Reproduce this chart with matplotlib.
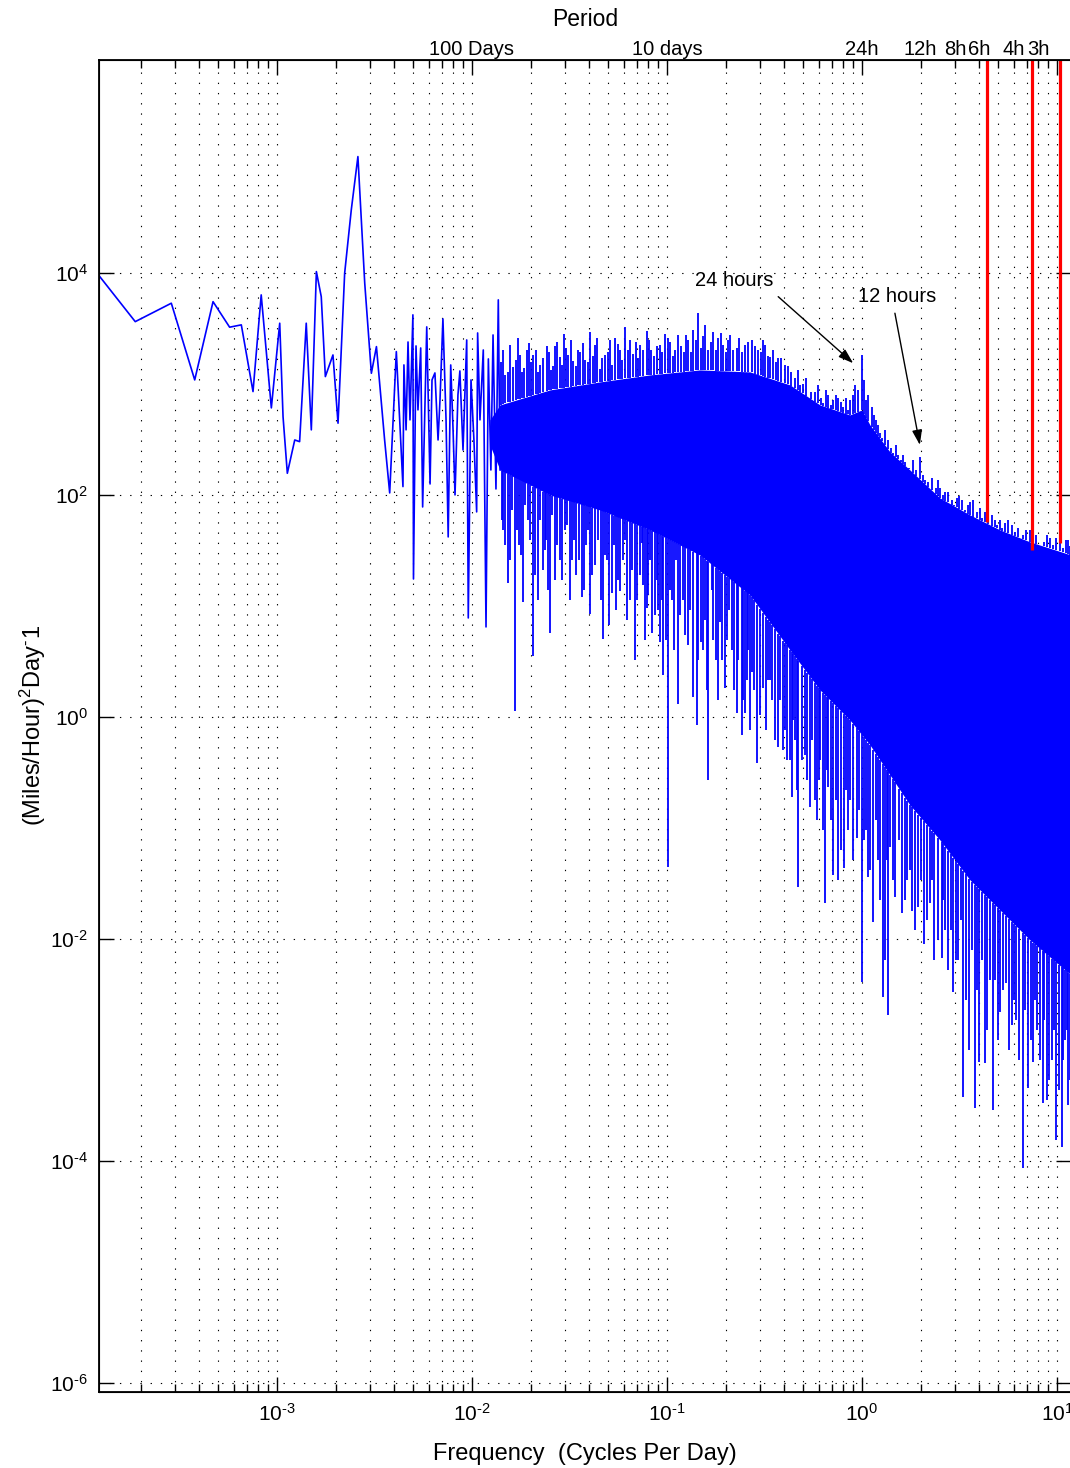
import numpy as np
import matplotlib
matplotlib.use('Agg')
import matplotlib.pyplot as plt
from matplotlib.ticker import LogLocator, NullLocator, NullFormatter, FuncFormatter

plt.rcParams['font.family'] = ['Liberation Sans', 'DejaVu Sans']
plt.rcParams['mathtext.fontset'] = 'custom'
plt.rcParams['mathtext.rm'] = 'Liberation Sans'
plt.rcParams['mathtext.it'] = 'Liberation Sans:italic'
plt.rcParams['mathtext.bf'] = 'Liberation Sans:bold'
plt.rcParams['axes.unicode_minus'] = False

BLUE = '#0000ff'
HYPHEN = '\u2010'

# low frequencies, drawn as a plain line (log10 cycles/day, log10 power)
line_lf = [-3.909, -3.727, -3.542, -3.422, -3.328, -3.243, -3.183, -3.123, -3.081, -3.029,
           -2.986, -2.969, -2.947, -2.909, -2.884, -2.850, -2.824, -2.798, -2.773, -2.752,
           -2.713, -2.687, -2.653, -2.619, -2.585, -2.550, -2.516, -2.490, -2.448, -2.422,
           -2.388, -2.354, -2.349, -2.338, -2.328, -2.318, -2.303, -2.300, -2.287, -2.277,
           -2.263, -2.253, -2.232, -2.215, -2.205, -2.190, -2.174, -2.164, -2.149, -2.133,
           -2.122, -2.109, -2.097, -2.087, -2.072, -2.062, -2.046, -2.027, -2.019, -2.005,
           -1.990, -1.976, -1.971, -1.959, -1.942, -1.928, -1.916, -1.903, -1.892, -1.877,
           -1.865, -1.856]
line_lp = [3.967, 3.561, 3.727, 3.036, 3.741, 3.511, 3.532, 2.931, 3.802, 2.784,
           3.547, 2.705, 2.195, 2.495, 2.480, 3.547, 2.586, 4.012, 3.786, 3.066,
           3.261, 2.646, 3.997, 4.568, 5.048, 3.907, 3.096, 3.336, 2.495, 2.018,
           3.291, 2.075, 3.171, 2.586, 3.378, 2.676, 3.622, 1.243, 3.342, 2.766,
           3.324, 1.892, 3.514, 2.099, 3.036, 3.099, 2.495, 2.856, 3.586, 2.676,
           1.622, 3.171, 2.586, 2.000, 2.901, 3.117, 2.405, 3.396, 0.892, 3.036,
           2.495, 1.847, 3.459, 2.676, 3.306, 0.811, 3.225, 2.225, 3.441, 2.054,
           3.757, 2.225]

# solid core of the dense part of the spectrum
band_lf = [-1.908, -1.856, -1.600, -1.344, -1.087, -0.831, -0.574, -0.369, -0.215, -0.062,
           0.000, 0.041, 0.144, 0.246, 0.400, 0.554, 0.708, 0.862, 1.072]
band_top = [2.676, 2.811, 2.946, 3.018, 3.081, 3.126, 3.108, 2.991, 2.811, 2.721,
            2.766, 2.631, 2.387, 2.225, 1.973, 1.820, 1.685, 1.577, 1.459]
band_bot = [2.450, 2.225, 2.000, 1.865, 1.685, 1.459, 1.099, 0.604, 0.243, -0.027,
            -0.162, -0.252, -0.523, -0.793, -1.108, -1.468, -1.739, -2.009, -2.324]

# tall spikes above the core
peak_lf = [-1.831, -1.788, -1.763, -1.744, -1.719, -1.686, -1.651, -1.617, -1.595, -1.574,
           -1.527, -1.508, -1.481, -1.446, -1.421, -1.395, -1.369, -1.344, -1.318, -1.292,
           -1.267, -1.241, -1.215, -1.190, -1.173, -1.138, -1.104, -1.082, -1.053, -1.010,
           -0.985, -0.959, -0.944, -0.891, -0.867, -0.839, -0.805, -0.763, -0.738, -0.711,
           -0.677, -0.643, -0.600, -0.566, -0.533, -0.497, -0.472, -0.429, -0.395, -0.344,
           -0.318, -0.275, -0.241, -0.198, -0.174, -0.147, -0.123, -0.096, -0.062, -0.036,
           -0.002, 0.031, 0.050, 0.072, 0.092, 0.118, 0.161, 0.185, 0.221, 0.263,
           0.297, 0.323, 0.359, 0.400, 0.426, 0.486, 0.513, 0.544, 0.571, 0.631,
           0.667, 0.708, 0.733, 0.769, 0.826, 0.862, 0.913, 0.964, 1.015, 1.056]
peak_lp = [3.081, 3.153, 3.414, 3.108, 3.306, 3.261, 3.171, 3.342, 3.126, 3.342,
           3.450, 3.261, 3.207, 3.288, 3.216, 3.468, 3.351, 3.135, 3.261, 3.396,
           3.414, 3.306, 3.514, 3.396, 3.270, 3.351, 3.477, 3.306, 3.342, 3.450,
           3.378, 3.306, 3.441, 3.396, 3.486, 3.640, 3.532, 3.468, 3.414, 3.351,
           3.441, 3.324, 3.351, 3.396, 3.306, 3.351, 3.243, 3.234, 3.171, 3.054,
           2.991, 2.883, 2.928, 2.829, 2.901, 2.856, 2.874, 2.793, 2.856, 2.991,
           3.261, 2.901, 2.793, 2.676, 2.559, 2.586, 2.378, 2.360, 2.297, 2.315,
           2.342, 2.135, 2.153, 2.063, 2.027, 1.973, 1.955, 1.910, 1.955, 1.847,
           1.820, 1.775, 1.748, 1.730, 1.640, 1.685, 1.550, 1.613, 1.640, 1.595]

# short spikes along the top edge of the core
ripple_hi_lf = [-1.851, -1.841, -1.815, -1.805, -1.774, -1.754, -1.733, -1.708, -1.697, -1.672,
                -1.662, -1.636, -1.605, -1.585, -1.564, -1.549, -1.538, -1.518, -1.492, -1.467,
                -1.456, -1.431, -1.405, -1.379, -1.359, -1.333, -1.303, -1.282, -1.251, -1.231,
                -1.200, -1.159, -1.149, -1.123, -1.092, -1.067, -1.036, -1.026, -0.995, -0.969,
                -0.928, -0.913, -0.903, -0.877, -0.851, -0.826, -0.815, -0.790, -0.774, -0.749,
                -0.723, -0.697, -0.687, -0.662, -0.631, -0.615, -0.585, -0.549, -0.518, -0.508,
                -0.482, -0.456, -0.441, -0.415, -0.379, -0.364, -0.328, -0.303, -0.287, -0.262,
                -0.226, -0.210, -0.185, -0.159, -0.133, -0.108, -0.082, -0.072, -0.046, -0.021,
                0.010, 0.021, 0.062, 0.082, 0.103, 0.133, 0.149, 0.174, 0.200, 0.210,
                0.241, 0.277, 0.313, 0.338, 0.379, 0.390, 0.415, 0.441, 0.462, 0.472,
                0.497, 0.528, 0.554, 0.590, 0.605, 0.615, 0.646, 0.682, 0.692, 0.718,
                0.749, 0.785, 0.800, 0.810, 0.841, 0.877, 0.892, 0.933, 0.949, 0.979,
                0.995, 1.031, 1.046, 1.067]
ripple_hi_lp = [3.198, 3.306, 3.108, 3.351, 3.216, 3.261, 3.144, 3.369, 3.198, 3.306,
                3.108, 3.234, 3.288, 3.162, 3.378, 3.243, 3.171, 3.324, 3.396, 3.162,
                3.306, 3.369, 3.198, 3.252, 3.414, 3.234, 3.288, 3.171, 3.360, 3.216,
                3.306, 3.378, 3.234, 3.306, 3.396, 3.252, 3.351, 3.288, 3.414, 3.252,
                3.342, 3.288, 3.441, 3.288, 3.396, 3.324, 3.432, 3.306, 3.378, 3.306,
                3.459, 3.288, 3.396, 3.306, 3.414, 3.288, 3.378, 3.342, 3.288, 3.396,
                3.252, 3.306, 3.198, 3.234, 3.162, 3.108, 3.126, 3.000, 3.054, 2.928,
                2.991, 2.874, 2.946, 2.811, 2.901, 2.838, 2.874, 2.766, 2.901, 2.946,
                3.036, 2.856, 2.721, 2.631, 2.514, 2.495, 2.423, 2.450, 2.315, 2.360,
                2.243, 2.225, 2.180, 2.117, 2.063, 2.135, 2.000, 2.027, 1.955, 1.910,
                1.991, 1.865, 1.937, 1.847, 1.883, 1.793, 1.820, 1.775, 1.730, 1.703,
                1.775, 1.667, 1.703, 1.613, 1.685, 1.595, 1.640, 1.577, 1.640, 1.550,
                1.613, 1.523, 1.595, 1.541]

# deep spikes below the core
dip_lf = [-1.841, -1.817, -1.805, -1.779, -1.759, -1.740, -1.713, -1.686, -1.662, -1.634,
          -1.621, -1.600, -1.574, -1.549, -1.523, -1.489, -1.467, -1.437, -1.415, -1.395,
          -1.369, -1.327, -1.308, -1.284, -1.262, -1.241, -1.215, -1.190, -1.164, -1.138,
          -1.130, -1.104, -1.087, -1.077, -1.046, -1.036, -1.019, -0.993, -0.974, -0.954,
          -0.942, -0.918, -0.891, -0.865, -0.848, -0.827, -0.805, -0.788, -0.771, -0.749,
          -0.728, -0.703, -0.682, -0.668, -0.643, -0.617, -0.600, -0.585, -0.566, -0.537,
          -0.506, -0.481, -0.462, -0.429, -0.404, -0.386, -0.361, -0.344, -0.327, -0.292,
          -0.267, -0.232, -0.215, -0.190, -0.173, -0.147, -0.122, -0.091, -0.062, -0.027,
          -0.002, 0.021, 0.032, 0.058, 0.082, 0.106, 0.118, 0.135, 0.144, 0.169,
          0.204, 0.231, 0.256, 0.289, 0.318, 0.349, 0.369, 0.409, 0.426, 0.468,
          0.492, 0.519, 0.550, 0.579, 0.602, 0.631, 0.656, 0.673, 0.708, 0.738,
          0.771, 0.790, 0.824, 0.853, 0.878, 0.897, 0.927, 0.947, 0.974, 0.995,
          1.024, 1.041, 1.058]
dip_lp = [1.685, 1.207, 1.414, 0.054, 1.550, 1.036, 1.775, 0.550, 1.054, 1.324,
          1.595, 0.757, 1.234, 1.414, 1.685, 1.414, 1.279, 1.081, 1.550, 0.928,
          1.369, 0.703, 1.414, 1.117, 0.964, 1.135, 1.595, 1.054, 0.514, 1.279,
          1.568, 0.982, 1.414, 0.757, 0.964, 0.676, 0.378, -1.351, 1.054, 1.414,
          0.117, 1.054, 0.649, 0.180, -0.072, 0.676, 0.874, -0.568, 1.144, 0.514,
          0.856, 0.261, 0.964, 0.604, 0.036, -0.162, 0.036, 0.604, 0.405, -0.414,
          0.261, 0.333, 0.153, -0.270, -0.297, -0.387, -0.721, -0.207, -1.532, -0.342,
          -0.811, -0.928, -0.387, -1.676, -0.631, -1.423, -1.468, -1.360, -0.748, -1.090,
          -2.387, -1.018, -1.441, -1.847, -1.288, -2.523, -2.189, -2.685, -1.171, -1.622,
          -1.766, -1.468, -1.748, -1.712, -2.045, -1.676, -2.189, -2.171, -1.919, -2.477,
          -2.189, -3.423, -3.000, -3.523, -3.108, -3.117, -2.369, -3.541, -2.658, -2.396,
          -2.775, -2.730, -4.063, -3.342, -3.108, -2.820, -3.477, -3.450, -3.090, -3.811,
          -3.874, -2.910, -3.495]

# shorter spikes along the bottom edge of the core
ripple_lo_lf = [-1.846, -1.831, -1.795, -1.769, -1.749, -1.728, -1.703, -1.677, -1.651, -1.626,
                -1.610, -1.590, -1.564, -1.538, -1.513, -1.497, -1.477, -1.451, -1.426, -1.405,
                -1.385, -1.354, -1.338, -1.318, -1.297, -1.272, -1.251, -1.226, -1.205, -1.179,
                -1.154, -1.123, -1.113, -1.097, -1.062, -1.051, -1.026, -1.005, -0.985, -0.964,
                -0.933, -0.908, -0.882, -0.841, -0.815, -0.795, -0.764, -0.738, -0.718, -0.692,
                -0.656, -0.636, -0.610, -0.590, -0.574, -0.554, -0.523, -0.492, -0.472, -0.446,
                -0.421, -0.395, -0.369, -0.354, -0.333, -0.308, -0.282, -0.256, -0.241, -0.221,
                -0.200, -0.179, -0.159, -0.133, -0.108, -0.082, -0.072, -0.046, -0.015, 0.010,
                0.041, 0.072, 0.092, 0.128, 0.159, 0.190, 0.221, 0.246, 0.272, 0.303,
                0.333, 0.359, 0.390, 0.415, 0.441, 0.456, 0.482, 0.508, 0.533, 0.564,
                0.590, 0.615, 0.641, 0.682, 0.697, 0.723, 0.754, 0.779, 0.805, 0.836,
                0.867, 0.887, 0.913, 0.933, 0.959, 0.985, 1.010, 1.031, 1.051, 1.067]
ripple_lo_lp = [1.775, 1.550, 1.865, 1.685, 1.459, 1.910, 1.595, 1.279, 1.775, 1.505,
                1.144, 1.820, 1.550, 1.234, 1.730, 1.054, 1.595, 1.414, 1.144, 1.685,
                1.279, 1.595, 1.054, 1.459, 0.829, 1.550, 1.234, 1.414, 0.874, 1.324,
                1.054, 1.189, 0.694, 1.099, 0.919, 1.234, 1.054, 0.694, 1.144, 0.604,
                0.919, 0.739, 0.964, 0.514, 0.604, 0.243, 0.694, 0.153, 0.514, 0.694,
                0.243, 0.514, 0.153, 0.333, -0.117, 0.243, 0.018, -0.117, 0.333, -0.207,
                0.153, -0.117, -0.387, -0.027, -0.658, -0.387, -0.568, -0.207, -0.748, -0.568,
                -1.018, -0.477, -0.928, -0.748, -1.198, -0.658, -1.018, -1.288, -0.838, -1.108,
                -1.378, -0.928, -1.649, -1.288, -1.468, -1.108, -1.649, -1.378, -1.919, -1.468,
                -1.829, -1.468, -2.009, -1.649, -2.279, -1.919, -2.189, -1.829, -2.550, -2.099,
                -2.459, -2.189, -2.820, -2.369, -2.910, -2.459, -3.000, -2.550, -3.090, -2.640,
                -2.910, -2.550, -3.090, -2.730, -3.270, -2.820, -3.360, -3.090, -2.820, -3.270]

# red marker lines (cycles/day) and the power where each one stops
red_f = [4.38, 7.45, 10.35]
red_low = [57.0, 32.0, 37.0]

period_f = [0.01, 0.1, 1, 2, 3, 4, 6, 8]
period_labels = ['100 Days', '10 days', '24h', '12h', '8h', '6h', '4h', '3h']

fig = plt.figure(figsize=(10.7, 14.68), dpi=100)
ax = fig.add_axes([0.0925, 0.0518, 0.9084, 0.9074])

band_lf = np.array(band_lf)
band_top = np.array(band_top)
band_bot = np.array(band_bot)


def spikes_up(lf, lp):
    lf = np.array(lf)
    base = np.interp(lf, band_lf, band_top)
    ax.vlines(10 ** lf, 10 ** base, 10 ** np.array(lp), colors=BLUE, lw=1.3, zorder=3)


def spikes_down(lf, lp):
    lf = np.array(lf)
    base = np.interp(lf, band_lf, band_bot)
    ax.vlines(10 ** lf, 10 ** np.array(lp), 10 ** base, colors=BLUE, lw=1.3, zorder=3)


def power_of_ten(v, pos):
    e = int(round(np.log10(v)))
    return r'$\mathdefault{10^{%s}}$' % str(e).replace('-', HYPHEN)


ax.plot(10 ** np.array(line_lf), 10 ** np.array(line_lp), color=BLUE, lw=1.2, zorder=3)
ax.fill_between(10 ** band_lf, 10 ** band_bot, 10 ** band_top, color=BLUE, lw=0, zorder=3)
spikes_up(peak_lf, peak_lp)
spikes_up(ripple_hi_lf, ripple_hi_lp)
spikes_down(dip_lf, dip_lp)
spikes_down(ripple_lo_lf, ripple_lo_lp)

ax.vlines(red_f, red_low, 1e7, colors='#ff0000', lw=2.3, zorder=4)

ax.set_xscale('log')
ax.set_yscale('log')
ax.set_xlim(10 ** -3.913, 10 ** 1.072)
ax.set_ylim(10 ** -6.081, 10 ** 5.919)

ax.xaxis.set_major_locator(LogLocator(base=10, numticks=20))
ax.xaxis.set_minor_locator(LogLocator(base=10, subs=np.arange(2, 10), numticks=20))
ax.xaxis.set_major_formatter(FuncFormatter(power_of_ten))
ax.xaxis.set_minor_formatter(NullFormatter())
ax.set_yticks([1e-6, 1e-4, 1e-2, 1e0, 1e2, 1e4])
ax.yaxis.set_major_formatter(FuncFormatter(power_of_ten))
ax.yaxis.set_minor_locator(NullLocator())

ax.set_axisbelow(True)
ax.grid(True, which='both', axis='x', color='k', ls=(0, (1.2, 8)), lw=0.8)
ax.grid(True, which='major', axis='y', color='k', ls=(0, (1.2, 8)), lw=0.8)

for s in ax.spines.values():
    s.set_linewidth(1.3)

ax.text(0.139, 8470, '24 hours', fontsize=14.5, va='center', ha='left', zorder=5)
ax.annotate('', xy=(0.902, 1536), xytext=(0.372, 6110),
            arrowprops=dict(arrowstyle='-|>,head_length=0.9,head_width=0.3', color='k',
                            lw=1.0, shrinkA=0, shrinkB=0), zorder=5)
ax.text(0.954, 6080, '12 hours', fontsize=14.5, va='center', ha='left', zorder=5)
ax.annotate('', xy=(1.982, 282), xytext=(1.476, 4335),
            arrowprops=dict(arrowstyle='-|>,head_length=0.9,head_width=0.3', color='k',
                            lw=1.0, shrinkA=0, shrinkB=0), zorder=5)

ax.set_xlabel('Frequency  (Cycles Per Day)', fontsize=17, labelpad=13)
ax.set_ylabel(r'(Miles/Hour)$^\mathdefault{2}$Day$^\mathdefault{%s}$1' % HYPHEN,
              fontsize=17, labelpad=1)

# period scale along the top
ax2 = ax.twiny()
ax2.set_xscale('log')
ax2.set_xlim(ax.get_xlim())
ax2.set_xticks(period_f)
ax2.set_xticklabels(period_labels)
ax2.xaxis.set_minor_locator(NullLocator())
ax2.tick_params(axis='x', which='both', length=0, labelsize=14.5, pad=1)
ax2.set_xlabel('Period', fontsize=16.5, labelpad=9.5)

ax.tick_params(which='both', direction='in', top=True, right=True, color='k', width=1.0,
               labelsize=15, pad=8)
ax.tick_params(which='major', length=11)
ax.tick_params(which='minor', length=6)
ax.tick_params(axis='x', top=True, labeltop=False)

fig.savefig('out.png', dpi=100)
